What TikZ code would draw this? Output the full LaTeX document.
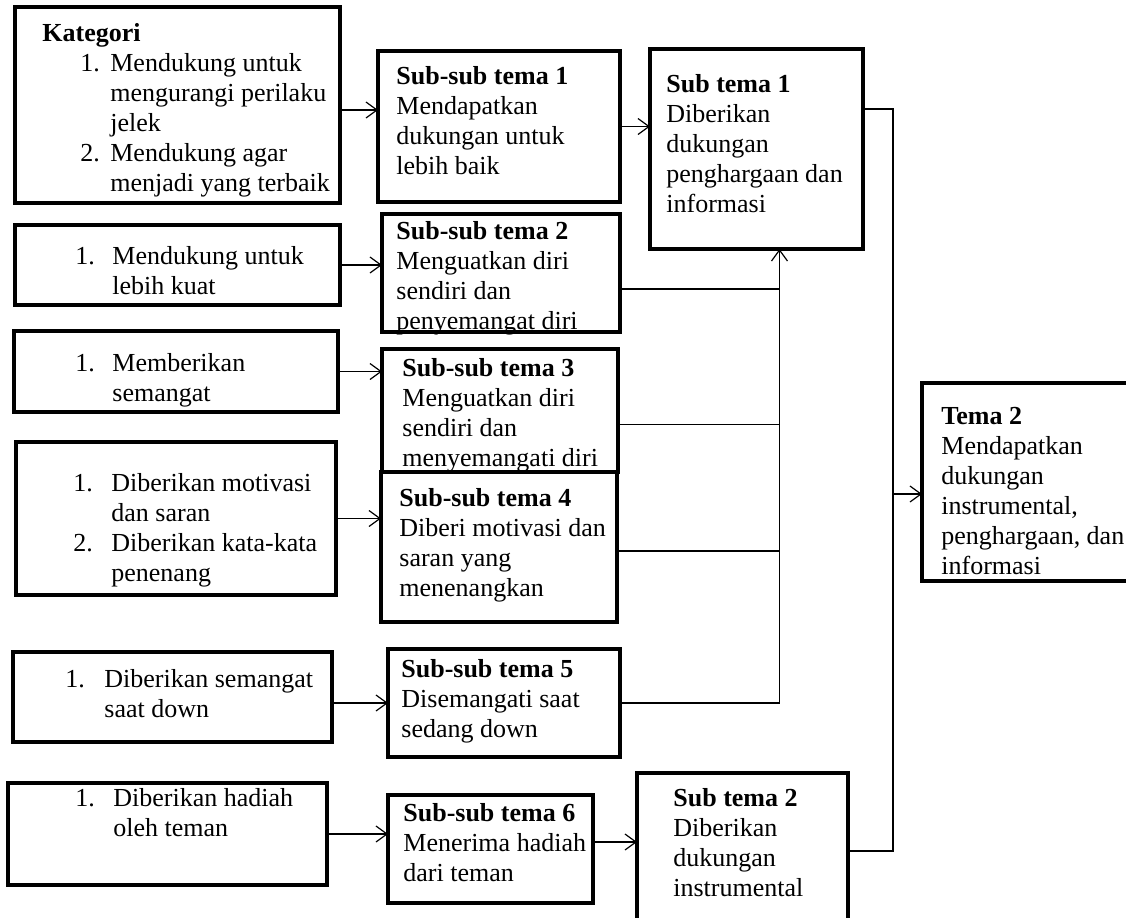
\documentclass[tikz,border=0pt]{standalone}
\usepackage{fontspec}
\setmainfont{Liberation Serif}
\usetikzlibrary{arrows.meta, positioning, calc}
\newcommand{\itm}[2][18.5pt]{\makebox[#1][l]{#2}}
\tikzset{
  ebox/.style={rectangle, draw=black, line width=1.6pt, inner sep=0pt, outer sep=0pt,
               anchor=north west},
  txt/.style={inner sep=0pt, align=left, anchor=north west, yshift=-2.5pt,
              font=\fontsize{13}{15}\selectfont, execute at begin node=\strut},
  conn/.style={line width=0.6pt, draw=black},
  arr/.style={conn, -{Straight Barb[length=5.5pt, width=8pt]}},
}

\begin{document}
\begin{tikzpicture}
  \useasboundingbox (0,0) rectangle (563pt,-458.5pt);
  \clip (0,0) rectangle (563pt,-458.5pt);

  % kategori boxes
  \node[ebox, minimum width=162.5pt, minimum height=98pt] (k1) at (7.5pt,-3.5pt) {};
  \node[ebox, minimum width=162.5pt, minimum height=40pt,
        below=11pt of k1.south west, anchor=north west] (k2) {};
  \node[ebox, minimum width=162pt, minimum height=40.5pt,
        below=13pt of k2.south west, anchor=north west, xshift=-0.5pt] (k3) {};
  \node[ebox, minimum width=160pt, minimum height=76.5pt,
        below=15pt of k3.south west, anchor=north west, xshift=1pt] (k4) {};
  \node[ebox, minimum width=159.5pt, minimum height=45pt,
        below=28.5pt of k4.south west, anchor=north west, xshift=-1.5pt] (k5) {};
  \node[ebox, minimum width=159.5pt, minimum height=51pt,
        below=20.5pt of k5.south west, anchor=north west, xshift=-2.5pt] (k6) {};

  % sub-sub tema boxes
  \node[ebox, minimum width=121pt, minimum height=75.5pt,
        below right=22pt and 19pt of k1.north east] (s1) {};
  \node[ebox, minimum width=119pt, minimum height=59pt,
        below=6pt of s1.south west, anchor=north west, xshift=2pt] (s2) {};
  \node[ebox, minimum width=118pt, minimum height=61.5pt,
        below=8.5pt of s2.south west, anchor=north west] (s3) {};
  \node[ebox, minimum width=118pt, minimum height=75pt,
        below=0pt of s3.south west, anchor=north west, xshift=-0.5pt] (s4) {};
  \node[ebox, minimum width=116pt, minimum height=54pt,
        below=13.5pt of s4.south west, anchor=north west, xshift=3.5pt] (s5) {};
  \node[ebox, minimum width=102.5pt, minimum height=54pt,
        below=19pt of s5.south west, anchor=north west] (s6) {};

  % sub tema and tema boxes
  \node[ebox, minimum width=106.5pt, minimum height=100pt,
        above right=1pt and 15pt of s1.north east, anchor=north west] (st1) {};
  \node[ebox, minimum width=105.5pt, minimum height=90pt,
        above right=11pt and 22pt of s6.north east, anchor=north west] (st2) {};
  \node[ebox, minimum width=115pt, minimum height=99pt,
        below right=167pt and 29.5pt of st1.north east] (t2) {};

  % texts
  \node[txt, below right=5.5pt and 13.5pt of k1.north west] (k1t) {\textbf{Kategori}\\
    \hspace*{19pt}\itm[15pt]{1.}Mendukung untuk\\
    \hspace*{34pt}mengurangi perilaku\\
    \hspace*{34pt}jelek\\
    \hspace*{19pt}\itm[15pt]{2.}Mendukung agar\\
    \hspace*{34pt}menjadi yang terbaik};
  \node[txt, below right=8pt and 30pt of k2.north west] (k2t)
    {\itm{1.}Mendukung untuk\\ \hspace*{18.5pt}lebih kuat};
  \node[txt, below right=8.5pt and 30.5pt of k3.north west] (k3t)
    {\itm{1.}Memberikan\\ \hspace*{18.5pt}semangat};
  \node[txt, below right=13pt and 28.5pt of k4.north west] (k4t)
    {\itm[19pt]{1.}Diberikan motivasi\\ \hspace*{19pt}dan saran\\
     \itm[19pt]{2.}Diberikan kata-kata\\ \hspace*{19pt}penenang};
  \node[txt, below right=6pt and 26pt of k5.north west] (k5t)
    {\itm[19.5pt]{1.}Diberikan semangat\\ \hspace*{19.5pt}saat down};
  \node[txt, below right=0pt and 33.5pt of k6.north west] (k6t)
    {\itm[19pt]{1.}Diberikan hadiah\\ \hspace*{19pt}oleh teman};

  \node[txt, below right=5pt and 9pt of s1.north west] (s1t)
    {\textbf{Sub-sub tema 1}\\ Mendapatkan\\ dukungan untuk\\ lebih baik};
  \node[txt, below right=1pt and 7pt of s2.north west] (s2t)
    {\textbf{Sub-sub tema 2}\\ Menguatkan diri\\ sendiri dan\\ penyemangat diri};
  \node[txt, below right=2pt and 10pt of s3.north west] (s3t)
    {\textbf{Sub-sub tema 3}\\ Menguatkan diri\\ sendiri dan\\ menyemangati diri};
  \node[txt, below right=5.5pt and 9pt of s4.north west] (s4t)
    {\textbf{Sub-sub tema 4}\\ Diberi motivasi dan\\ saran yang\\ menenangkan};
  \node[txt, below right=2.5pt and 6.5pt of s5.north west] (s5t)
    {\textbf{Sub-sub tema 5}\\ Disemangati saat\\ sedang down};
  \node[txt, below right=1.5pt and 7.5pt of s6.north west] (s6t)
    {\textbf{Sub-sub tema 6}\\ Menerima hadiah\\ dari teman};

  \node[txt, below right=10pt and 8pt of st1.north west] (st1t)
    {\textbf{Sub tema 1}\\ Diberikan\\ dukungan\\ penghargaan dan\\ informasi};
  \node[txt, below right=5pt and 18pt of st2.north west] (st2t)
    {\textbf{Sub tema 2}\\ Diberikan\\ dukungan\\ instrumental};
  \node[txt, below right=9.5pt and 9.5pt of t2.north west] (t2t)
    {\textbf{Tema 2}\\ Mendapatkan\\ dukungan\\ instrumental,\\ penghargaan, dan\\ informasi};

  % connectors
  \coordinate (bus) at ([xshift=11.5pt]st1.south);
  \coordinate (rbus) at ([xshift=-14.5pt, yshift=-6pt]t2.west);

  \draw[arr] ([yshift=-2.5pt]k1.east) -- ([yshift=-2.5pt]k1.east -| s1.west);
  \draw[arr] (k2.east) -- (k2.east -| s2.west);
  \draw[arr] (k3.east) -- (k3.east -| s3.west);
  \draw[arr] (k4.east) -- (k4.east -| s4.west);
  \draw[arr] (k5.east |- s5.west) -- (s5.west);
  \draw[arr] (k6.east) -- (k6.east -| s6.west);
  \draw[arr] (s1.east) -- (s1.east -| st1.west);
  \draw[arr] ([yshift=3.5pt]s6.east) -- ([yshift=3.5pt]s6.east -| st2.west);

  \draw[arr] (s5.east) -| (bus);
  \draw[conn] ([yshift=-8pt]s2.east) -- ([yshift=-8pt]s2.east -| bus);
  \draw[conn] ([yshift=-7pt]s3.east) -- ([yshift=-7pt]s3.east -| bus);
  \draw[conn] ([yshift=-2pt]s4.east) -- ([yshift=-2pt]s4.east -| bus);

  \draw[conn] ([yshift=20pt]st1.east) -| (rbus) |- ([yshift=-39pt]st2.north east);
  \draw[arr] (rbus) -- (rbus -| t2.west);
\end{tikzpicture}
\end{document}
